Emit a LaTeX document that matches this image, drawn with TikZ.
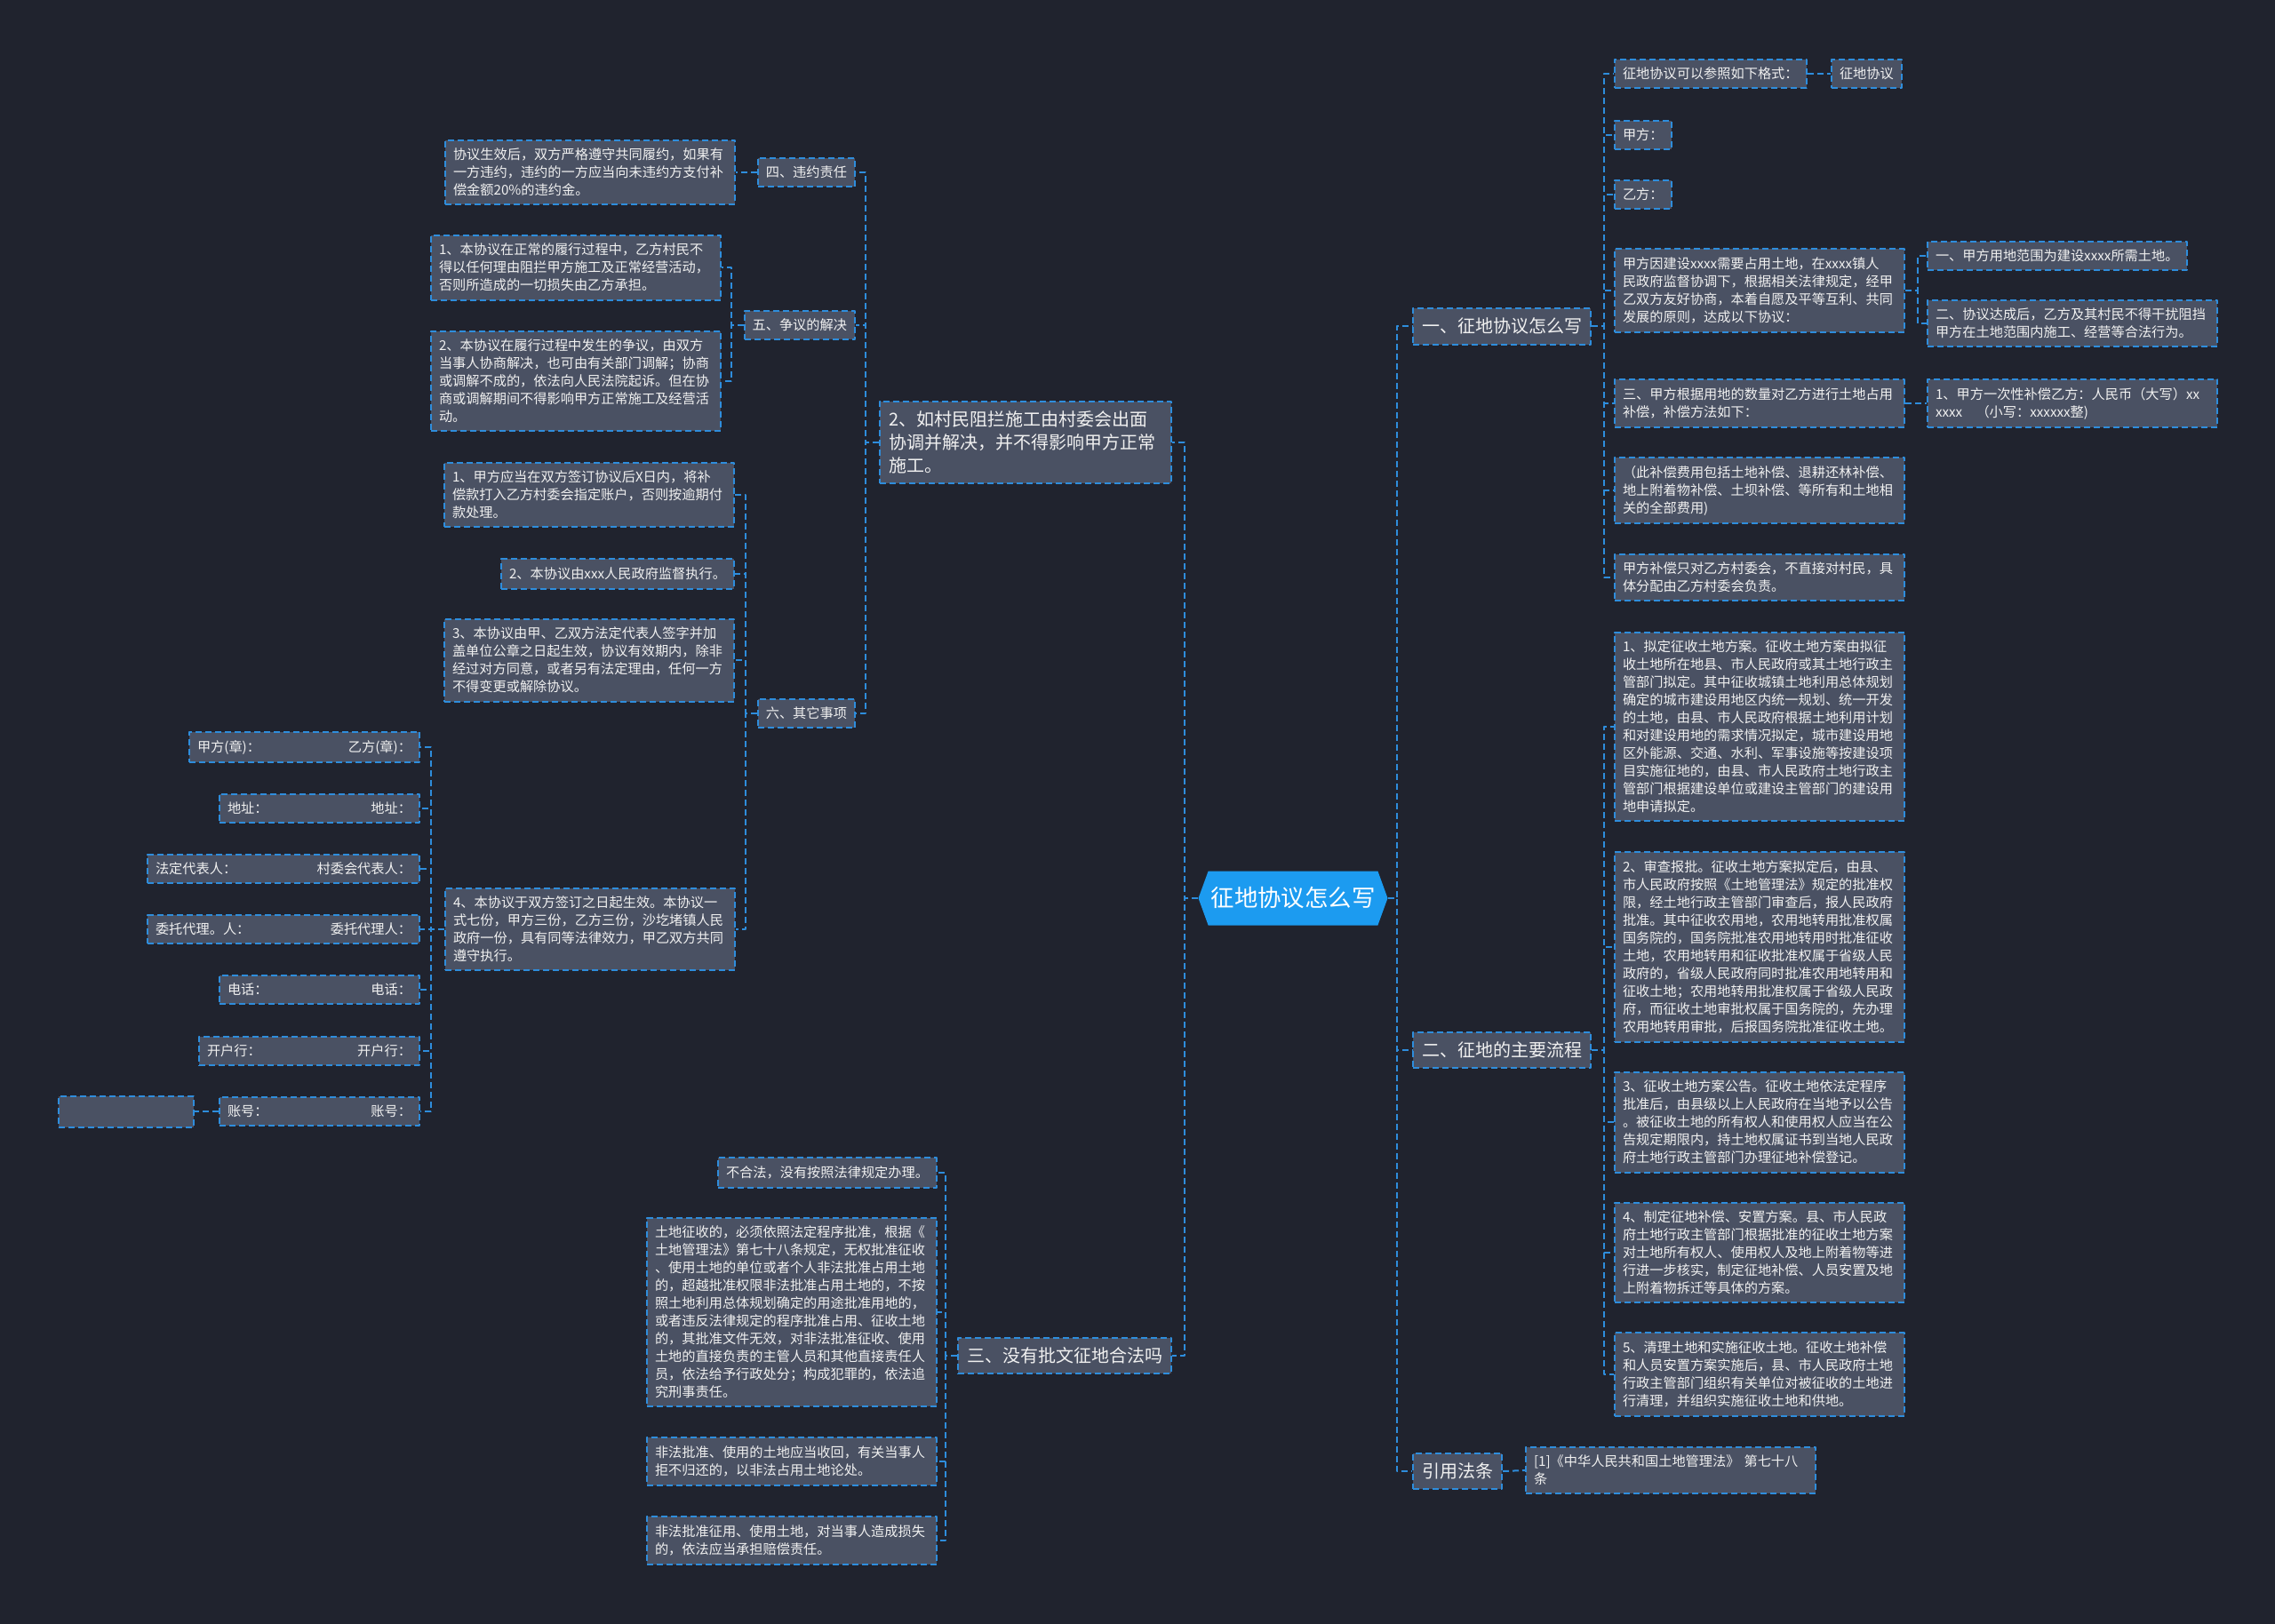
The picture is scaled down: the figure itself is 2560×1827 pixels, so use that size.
\documentclass[tikz,border=0pt]{standalone}
\usepackage{fontspec}
\setmainfont{Noto Sans CJK SC}
\usepackage{xcolor}
\usepackage{tikz}
\usetikzlibrary{arrows.meta,shapes.symbols,positioning,calc}
\definecolor{bgdark}{HTML}{20232E}
\definecolor{boxfill}{HTML}{4A5163}
\definecolor{edgeblue}{HTML}{2E8DDC}
\definecolor{rootblue}{HTML}{1C9BF0}
\definecolor{txtlight}{HTML}{F0F0F0}
\newcommand\twoside[2]{#1\hskip 0pt plus 1fill\relax #2}

\begin{document}
\begin{tikzpicture}[x=0.5pt, y=-0.5pt, line join=round,
  leaf/.style={draw=edgeblue, fill=boxfill, line width=1pt, dash pattern=on 3.5pt off 2pt,
    text=txtlight, font=\fontsize{7.6}{10}\selectfont, align=left, inner xsep=4.5pt, inner ysep=4.7pt},
  wide/.style={text width=154pt},
  branch/.style={leaf, font=\fontsize{10}{12.9}\selectfont, inner xsep=5pt, inner ysep=5.6pt},
  hub/.style={signal, signal to=east and west, signal pointer angle=140, fill=rootblue,
    text=white, font=\fontsize{13.2}{16}\selectfont, inner xsep=1.5pt, minimum height=30.5pt},
  link/.style={draw=edgeblue, line width=1pt, dash pattern=on 3.5pt off 2pt}]
\useasboundingbox (0,0) rectangle (2560,1827);
\fill[bgdark] (-10,-10) rectangle (2570,1837);

\node[hub] (root) at (1455,1011) {征地协议怎么写};

\node[branch, anchor=west] (r0) at (1589,367) {一、征地协议怎么写};
\node[branch, anchor=west] (r1) at (1589,1182) {二、征地的主要流程};
\node[branch, anchor=west] (r2) at (1589,1656) {引用法条};
\node[branch, anchor=east, text width=154pt] (l0) at (1319,498) {2、如村民阻拦施工由村委会出面\\协调并解决，并不得影响甲方正常\\施工。};
\node[branch, anchor=east] (l1) at (1319,1526) {三、没有批文征地合法吗};

\node[leaf, anchor=west] (a0) at (1816,83) {征地协议可以参照如下格式：};
\node[leaf, anchor=west] (a0x) at (2060,83) {征地协议};
\node[leaf, anchor=west] (a1) at (1816,152) {甲方：};
\node[leaf, anchor=west] (a2) at (1816,219) {乙方：};
\node[leaf, wide, anchor=west] (a3) at (1816,327) {甲方因建设xxxx需要占用土地，在xxxx镇人\\民政府监督协调下，根据相关法律规定，经甲\\乙双方友好协商，本着自愿及平等互利、共同\\发展的原则，达成以下协议：};
\node[leaf, anchor=west] (a3a) at (2168,288) {一、甲方用地范围为建设xxxx所需土地。};
\node[leaf, wide, anchor=west] (a3b) at (2168,364) {二、协议达成后，乙方及其村民不得干扰阻挡\\甲方在土地范围内施工、经营等合法行为。};
\node[leaf, wide, anchor=west] (a4) at (1816,454) {三、甲方根据用地的数量对乙方进行土地占用\\补偿，补偿方法如下：};
\node[leaf, wide, anchor=west] (a4a) at (2168,454) {1、甲方一次性补偿乙方：人民币（大写）xx\\xxxx　（小写：xxxxxx整)};
\node[leaf, wide, anchor=west] (a5) at (1816,552) {（此补偿费用包括土地补偿、退耕还林补偿、\\地上附着物补偿、土坝补偿、等所有和土地相\\关的全部费用)};
\node[leaf, wide, anchor=west] (a6) at (1816,650) {甲方补偿只对乙方村委会，不直接对村民，具\\体分配由乙方村委会负责。};

\node[leaf, wide, anchor=west] (b1) at (1816,818) {1、拟定征收土地方案。征收土地方案由拟征\\收土地所在地县、市人民政府或其土地行政主\\管部门拟定。其中征收城镇土地利用总体规划\\确定的城市建设用地区内统一规划、统一开发\\的土地，由县、市人民政府根据土地利用计划\\和对建设用地的需求情况拟定，城市建设用地\\区外能源、交通、水利、军事设施等按建设项\\目实施征地的，由县、市人民政府土地行政主\\管部门根据建设单位或建设主管部门的建设用\\地申请拟定。};
\node[leaf, wide, anchor=west] (b2) at (1816,1066) {2、审查报批。征收土地方案拟定后，由县、\\市人民政府按照《土地管理法》规定的批准权\\限，经土地行政主管部门审查后，报人民政府\\批准。其中征收农用地，农用地转用批准权属\\国务院的，国务院批准农用地转用时批准征收\\土地，农用地转用和征收批准权属于省级人民\\政府的，省级人民政府同时批准农用地转用和\\征收土地；农用地转用批准权属于省级人民政\\府，而征收土地审批权属于国务院的，先办理\\农用地转用审批，后报国务院批准征收土地。};
\node[leaf, wide, anchor=west] (b3) at (1816,1263) {3、征收土地方案公告。征收土地依法定程序\\批准后，由县级以上人民政府在当地予以公告\\。被征收土地的所有权人和使用权人应当在公\\告规定期限内，持土地权属证书到当地人民政\\府土地行政主管部门办理征地补偿登记。};
\node[leaf, wide, anchor=west] (b4) at (1816,1410) {4、制定征地补偿、安置方案。县、市人民政\\府土地行政主管部门根据批准的征收土地方案\\对土地所有权人、使用权人及地上附着物等进\\行进一步核实，制定征地补偿、人员安置及地\\上附着物拆迁等具体的方案。};
\node[leaf, wide, anchor=west] (b5) at (1816,1547) {5、清理土地和实施征收土地。征收土地补偿\\和人员安置方案实施后，县、市人民政府土地\\行政主管部门组织有关单位对被征收的土地进\\行清理，并组织实施征收土地和供地。};

\node[leaf, wide, anchor=west] (c1) at (1716,1655) {[1]《中华人民共和国土地管理法》 第七十八\\条};

\node[leaf, anchor=east] (d1) at (963,194) {四、违约责任};
\node[leaf, wide, anchor=east] (d1a) at (828,194) {协议生效后，双方严格遵守共同履约，如果有\\一方违约，违约的一方应当向未违约方支付补\\偿金额20\%的违约金。};
\node[leaf, anchor=east] (d2) at (963,366) {五、争议的解决};
\node[leaf, wide, anchor=east] (d2a) at (812,301) {1、本协议在正常的履行过程中，乙方村民不\\得以任何理由阻拦甲方施工及正常经营活动，\\否则所造成的一切损失由乙方承担。};
\node[leaf, wide, anchor=east] (d2b) at (812,429) {2、本协议在履行过程中发生的争议，由双方\\当事人协商解决，也可由有关部门调解；协商\\或调解不成的，依法向人民法院起诉。但在协\\商或调解期间不得影响甲方正常施工及经营活\\动。};
\node[leaf, anchor=east] (d3) at (963,803) {六、其它事项};
\node[leaf, wide, anchor=east] (d3a) at (827,557) {1、甲方应当在双方签订协议后X日内，将补\\偿款打入乙方村委会指定账户，否则按逾期付\\款处理。};
\node[leaf, anchor=east] (d3b) at (827,646) {2、本协议由xxx人民政府监督执行。};
\node[leaf, wide, anchor=east] (d3c) at (827,743) {3、本协议由甲、乙双方法定代表人签字并加\\盖单位公章之日起生效，协议有效期内，除非\\经过对方同意，或者另有法定理由，任何一方\\不得变更或解除协议。};
\node[leaf, wide, anchor=east] (d3d) at (828,1046) {4、本协议于双方签订之日起生效。本协议一\\式七份，甲方三份，乙方三份，沙圪堵镇人民\\政府一份，具有同等法律效力，甲乙双方共同\\遵守执行。};

\node[leaf, anchor=east, text width=120.5pt] (e1) at (473,841) {\twoside{甲方(章)：}{乙方(章)：}};
\node[leaf, anchor=east, text width=103.5pt] (e2) at (473,910) {\twoside{地址：}{地址：}};
\node[leaf, anchor=east, text width=144pt] (e3) at (473,978) {\twoside{法定代表人：}{村委会代表人：}};
\node[leaf, anchor=east, text width=144pt] (e4) at (473,1046) {\twoside{委托代理。人：}{委托代理人：}};
\node[leaf, anchor=east, text width=103.5pt] (e5) at (473,1114) {\twoside{电话：}{电话：}};
\node[leaf, anchor=east, text width=115pt] (e6) at (473,1183) {\twoside{开户行：}{开户行：}};
\node[leaf, anchor=east, text width=103.5pt] (e7) at (473,1251) {\twoside{账号：}{账号：}};
\node[leaf, anchor=east, minimum width=76pt, minimum height=17.5pt] (e8) at (219,1251) {};

\node[leaf, anchor=east] (f1) at (1055,1320) {不合法，没有按照法律规定办理。};
\node[leaf, wide, anchor=east] (f2) at (1055,1477) {土地征收的，必须依照法定程序批准，根据《\\土地管理法》第七十八条规定，无权批准征收\\、使用土地的单位或者个人非法批准占用土地\\的，超越批准权限非法批准占用土地的，不按\\照土地利用总体规划确定的用途批准用地的，\\或者违反法律规定的程序批准占用、征收土地\\的，其批准文件无效，对非法批准征收、使用\\土地的直接负责的主管人员和其他直接责任人\\员，依法给予行政处分；构成犯罪的，依法追\\究刑事责任。};
\node[leaf, wide, anchor=east] (f3) at (1055,1645) {非法批准、使用的土地应当收回，有关当事人\\拒不归还的，以非法占用土地论处。};
\node[leaf, wide, anchor=east] (f4) at (1055,1734) {非法批准征用、使用土地，对当事人造成损失\\的，依法应当承担赔偿责任。};

\foreach \n in {r0,r1,r2}
  \draw[link] (root.east) -- ++(10,0) |- (\n.west);
\foreach \n in {l0,l1}
  \draw[link] (root.west) -- ++(-15,0) |- (\n.east);
\foreach \n in {a0,a1,a2,a3,a4,a5,a6}
  \draw[link] (r0.east) -- ++(14,0) |- (\n.west);
\foreach \n in {a3a,a3b}
  \draw[link] (a3.east) -- ++(14,0) |- (\n.west);
\draw[link] (a0.east) -- (a0x.west);
\draw[link] (a4.east) -- (a4a.west);
\foreach \n in {b1,b2,b3,b4,b5}
  \draw[link] (r1.east) -- ++(14,0) |- (\n.west);
\draw[link] (r2.east) -- (c1.west);
\foreach \n in {d1,d2,d3}
  \draw[link] (l0.west) -- ++(-15,0) |- (\n.east);
\draw[link] (d1.west) -- (d1a.east);
\foreach \n in {d2a,d2b}
  \draw[link] (d2.west) -- ++(-14,0) |- (\n.east);
\foreach \n in {d3a,d3b,d3c,d3d}
  \draw[link] (d3.west) -- ++(-13,0) |- (\n.east);
\foreach \n in {e1,e2,e3,e4,e5,e6,e7}
  \draw[link] (d3d.west) -- ++(-15,0) |- (\n.east);
\draw[link] (e7.west) -- (e8.east);
\foreach \n in {f1,f2,f3,f4}
  \draw[link] (l1.west) -- ++(-13,0) |- (\n.east);
\end{tikzpicture}
\end{document}
